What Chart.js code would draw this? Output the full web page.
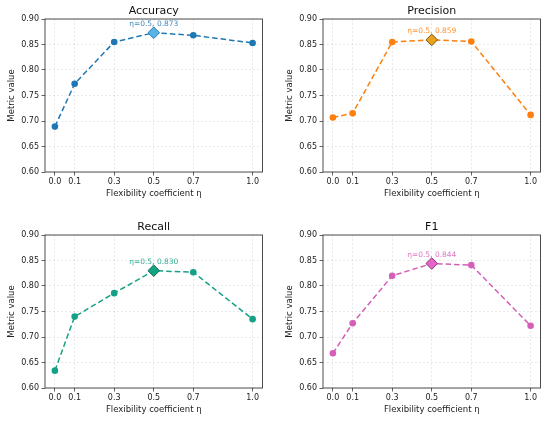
<!DOCTYPE html>
<html>
<head>
<meta charset="utf-8">
<script src="https://cdn.jsdelivr.net/npm/chart.js@4.4.1/dist/chart.umd.min.js"></script>
<style>
  html, body { margin: 0; padding: 0; background: #ffffff; }
  body { width: 550px; height: 421px; position: relative; overflow: hidden; }
  canvas { position: absolute; }
</style>
</head>
<body>
<canvas id="c0" width="272" height="205" style="left:0px;top:0px;"></canvas>
<canvas id="c1" width="272" height="205" style="left:278px;top:0px;"></canvas>
<canvas id="c2" width="272" height="205" style="left:0px;top:216px;"></canvas>
<canvas id="c3" width="272" height="205" style="left:278px;top:216px;"></canvas>
<script>
// ---- data ----
const etaValues = [0.0, 0.1, 0.3, 0.5, 0.7, 1.0];
const xTickLabels = ['0.0', '0.1', '0.3', '0.5', '0.7', '1.0'];
const yTickValues = [0.60, 0.65, 0.70, 0.75, 0.80, 0.85, 0.90];
const accuracy = [0.689, 0.773, 0.855, 0.873, 0.868, 0.853];
const precision = [0.707, 0.715, 0.855, 0.859, 0.856, 0.712];
const recall = [0.634, 0.740, 0.786, 0.830, 0.827, 0.735];
const f1 = [0.668, 0.727, 0.820, 0.844, 0.841, 0.722];
const panelTitles = ['Accuracy', 'Precision', 'Recall', 'F1'];
const bestIndex = 3;

// ---- styles ----
const panelStyles = [
  { line: '#1f77b4', best: '#56b4e9', bestEdge: '#1f6fa8', label: 'rgba(31,119,180,0.85)' },
  { line: '#ff7f0e', best: '#e9a21a', bestEdge: '#6b4a10', label: 'rgba(255,127,14,0.85)' },
  { line: '#16a085', best: '#12a383', bestEdge: '#0b5e4c', label: 'rgba(22,160,133,0.85)' },
  { line: '#d35fb7', best: '#e863c9', bestEdge: '#7c2c6b', label: 'rgba(211,95,183,0.85)' }
];
const series = [accuracy, precision, recall, f1];
const FONT = '"DejaVu Sans", sans-serif';

const framePlugin = {
  id: 'frame',
  afterDraw(chart) {
    const a = chart.chartArea, ctx = chart.ctx;
    ctx.save();
    ctx.strokeStyle = '#3a3a3a';
    ctx.lineWidth = 0.9;
    ctx.setLineDash([]);
    ctx.strokeRect(a.left, a.top, a.right - a.left, a.bottom - a.top);
    ctx.restore();
  }
};

// panel title centred over the plot area (like matplotlib)
const panelTitlePlugin = {
  id: 'panelTitle',
  afterDraw(chart, args, opts) {
    const a = chart.chartArea, ctx = chart.ctx;
    ctx.save();
    ctx.font = '11px ' + FONT;
    ctx.fillStyle = '#111111';
    ctx.textAlign = 'center';
    ctx.textBaseline = 'alphabetic';
    ctx.fillText(opts.text, (a.left + a.right) / 2, a.top - 4.6);
    ctx.restore();
  }
};

const bestLabelPlugin = {
  id: 'bestLabel',
  afterDatasetsDraw(chart, args, opts) {
    const meta = chart.getDatasetMeta(0);
    const pt = meta.data[bestIndex];
    if (!pt) return;
    const ctx = chart.ctx;
    ctx.save();
    ctx.font = '7.5px ' + FONT;
    ctx.fillStyle = opts.color;
    ctx.textAlign = 'center';
    ctx.textBaseline = 'middle';
    ctx.fillText(opts.text, pt.x, pt.y - 9);
    ctx.restore();
  }
};

series.forEach((vals, k) => {
  const st = panelStyles[k];
  const styles = vals.map((v, i) => i === bestIndex ? 'rectRot' : 'circle');
  const radii = vals.map((v, i) => i === bestIndex ? 5.8 : 3.3);
  const fills = vals.map((v, i) => i === bestIndex ? st.best : st.line);
  const edges = vals.map((v, i) => i === bestIndex ? st.bestEdge : st.line);
  const edgeW = vals.map((v, i) => i === bestIndex ? 0.9 : 0);
  const labelText = 'η=' + etaValues[bestIndex].toFixed(1) + ', ' + vals[bestIndex].toFixed(3);

  new Chart(document.getElementById('c' + k), {
    type: 'line',
    data: {
      datasets: [{
        data: etaValues.map((x, i) => ({ x: x, y: vals[i] })),
        borderColor: st.line,
        borderWidth: 1.5,
        borderDash: [5.5, 3],
        fill: false,
        tension: 0,
        pointStyle: styles,
        pointRadius: radii,
        pointBackgroundColor: fills,
        pointBorderColor: edges,
        pointBorderWidth: edgeW
      }]
    },
    options: {
      responsive: false,
      animation: false,
      devicePixelRatio: 1,
      layout: { padding: { left: 0, right: 9.5, top: 19, bottom: 0 } },
      plugins: {
        legend: { display: false },
        tooltip: { enabled: false },
        title: { display: false },
        panelTitle: { text: panelTitles[k] },
        bestLabel: { text: labelText, color: st.label }
      },
      scales: {
        x: {
          type: 'linear',
          min: -0.05,
          max: 1.05,
          afterBuildTicks(scale) { scale.ticks = etaValues.map(v => ({ value: v })); },
          afterFit(scale) { scale.height = 33; },
          ticks: {
            color: '#222222',
            font: { family: FONT, size: 8 },
            padding: 2,
            maxRotation: 0,
            autoSkip: false,
            callback(value) {
              const idx = etaValues.indexOf(value);
              return idx >= 0 ? xTickLabels[idx] : '';
            }
          },
          grid: {
            color: 'rgba(0,0,0,0.12)',
            lineWidth: 0.7,
            drawTicks: true,
            tickLength: 3.5,
            tickColor: '#3a3a3a',
            tickWidth: 0.8,
            tickBorderDash: []
          },
          border: { display: false, dash: [2, 2] },
          title: {
            display: true,
            text: 'Flexibility coefficient η',
            color: '#222222',
            font: { family: FONT, size: 8.5 },
            padding: { top: 0, bottom: 6 }
          }
        },
        y: {
          type: 'linear',
          min: 0.6,
          max: 0.9,
          afterBuildTicks(scale) { scale.ticks = yTickValues.map(v => ({ value: v })); },
          afterFit(scale) { scale.width = 45; },
          ticks: {
            color: '#222222',
            font: { family: FONT, size: 8 },
            padding: 2.5,
            callback(value) { return Number(value).toFixed(2); }
          },
          grid: {
            color: 'rgba(0,0,0,0.12)',
            lineWidth: 0.7,
            drawTicks: true,
            tickLength: 3.5,
            tickColor: '#3a3a3a',
            tickWidth: 0.8,
            tickBorderDash: []
          },
          border: { display: false, dash: [2, 2] },
          title: {
            display: true,
            text: 'Metric value',
            color: '#222222',
            font: { family: FONT, size: 8.5 },
            padding: { top: 6.5, bottom: 0 }
          }
        }
      }
    },
    plugins: [framePlugin, panelTitlePlugin, bestLabelPlugin]
  });
});
</script>
</body>
</html>
